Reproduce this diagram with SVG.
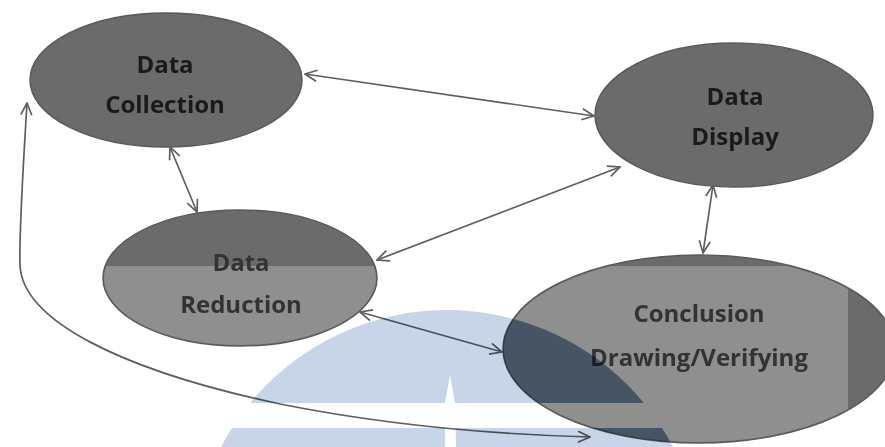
<svg xmlns="http://www.w3.org/2000/svg" width="885" height="447" viewBox="0 0 885 447">
<style>
.node{fill:#6b6b6b;stroke:#595959;stroke-width:1.5}
.light{fill:#8f8f8f}
.lbl{font-family:"Open Sans","Liberation Sans",sans-serif;font-weight:700;font-size:24px;fill:#1a1a1a;text-anchor:middle}
.lbl2{fill:#333333}
.con{fill:none;stroke:#5e5e5e;stroke-width:1.7}
</style>
<defs>
<marker id="ah" viewBox="0 0 14 14" refX="13" refY="7" markerWidth="14" markerHeight="14" markerUnits="userSpaceOnUse" orient="auto-start-reverse">
<path d="M1,1.5 L13,7 L1,12.5" fill="none" stroke="#5e5e5e" stroke-width="1.7"/>
</marker>
<clipPath id="lower">
<rect x="0" y="266" width="848" height="181"/>
</clipPath>
<mask id="wm" maskUnits="userSpaceOnUse" x="0" y="0" width="885" height="447">
<circle cx="447" cy="565" r="255" fill="#fff"/>
<rect x="0" y="403" width="885" height="25" fill="#000"/>
<polygon points="450,375 455,403 456,447 445,447 445,403" fill="#000"/>
</mask>
</defs>
<rect width="885" height="447" fill="#ffffff"/>
<g id="connectors">
<line class="con" x1="305" y1="74" x2="594" y2="116" marker-start="url(#ah)" marker-end="url(#ah)"/>
<line class="con" x1="170" y1="147" x2="197" y2="212" marker-start="url(#ah)" marker-end="url(#ah)"/>
<line class="con" x1="377" y1="260" x2="620" y2="167" marker-start="url(#ah)" marker-end="url(#ah)"/>
<line class="con" x1="713" y1="185" x2="703" y2="253" marker-start="url(#ah)" marker-end="url(#ah)"/>
<line class="con" x1="360" y1="312" x2="502" y2="352" marker-start="url(#ah)" marker-end="url(#ah)"/>
<path class="con" d="M27,103 C23,170 19,230 20,265 C22,320 120,370 280,404 C380,424 480,434 590,437" marker-start="url(#ah)" marker-end="url(#ah)"/>
</g>
<g id="data-collection">
<ellipse class="node" cx="166" cy="80" rx="136" ry="67"/>
<text class="lbl" x="165" y="73">Data</text>
<text class="lbl" x="165" y="113">Collection</text>
</g>
<g id="data-display">
<ellipse class="node" cx="734" cy="115" rx="139" ry="72"/>
<text class="lbl" x="735" y="105">Data</text>
<text class="lbl" x="735" y="145">Display</text>
</g>
<g id="data-reduction">
<ellipse class="node" cx="240" cy="278" rx="137" ry="68"/>
<ellipse class="light" cx="240" cy="278" rx="136" ry="67" clip-path="url(#lower)"/>
<text class="lbl lbl2" x="241" y="271">Data</text>
<text class="lbl lbl2" x="241" y="313">Reduction</text>
</g>
<g id="conclusion">
<ellipse class="node" cx="699" cy="349" rx="196" ry="94"/>
<ellipse class="light" cx="699" cy="349" rx="195" ry="93" clip-path="url(#lower)"/>
<text class="lbl lbl2" x="699" y="322">Conclusion</text>
<text class="lbl lbl2" x="699" y="366">Drawing/Verifying</text>
</g>
<g mask="url(#wm)" style="mix-blend-mode:multiply">
<rect x="0" y="300" width="885" height="147" fill="#c8d5e8"/>
<ellipse cx="699" cy="349" rx="196" ry="94" fill="#7f95b3"/>
</g>
</svg>
